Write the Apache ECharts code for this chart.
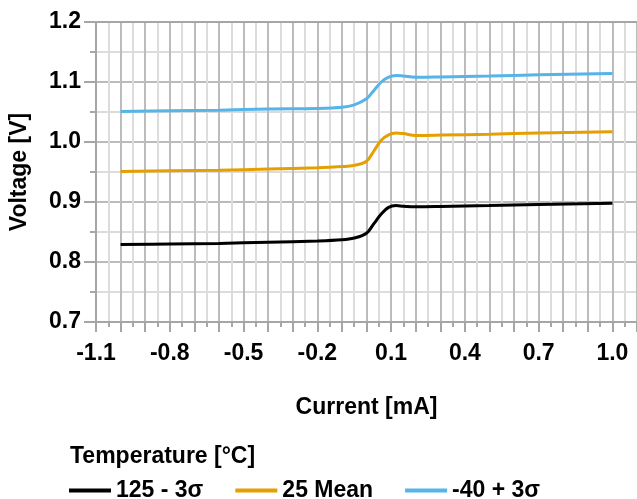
<!DOCTYPE html>
<html>
<head>
<meta charset="utf-8">
<script src="https://cdn.jsdelivr.net/npm/echarts@6/dist/echarts.min.js"></script>
<style>
html,body{margin:0;padding:0;background:#fff;}
#chart{width:637px;height:499px;}
</style>
</head>
<body>
<div id="chart"></div>
<script>
// Data
const currentMA = [-1.0, -0.8, -0.6, -0.4, -0.2, -0.1, -0.05, 0.0, 0.03, 0.06, 0.09, 0.12, 0.15, 0.2, 0.3, 0.5, 0.7, 1.0];
const v125minus3s = [0.829, 0.830, 0.831, 0.833, 0.835, 0.837, 0.840, 0.848, 0.864, 0.880, 0.891, 0.894, 0.893, 0.892, 0.8925, 0.894, 0.896, 0.898];
const v25mean = [0.951, 0.952, 0.953, 0.955, 0.957, 0.959, 0.961, 0.968, 0.985, 1.003, 1.012, 1.015, 1.014, 1.011, 1.0115, 1.013, 1.015, 1.017];
const vMinus40plus3s = [1.051, 1.052, 1.053, 1.055, 1.056, 1.058, 1.062, 1.072, 1.086, 1.100, 1.108, 1.111, 1.110, 1.108, 1.1085, 1.110, 1.112, 1.114];
const seriesNames = ['125 - 3σ', '25 Mean', '-40 + 3σ'];
const xTickLabels = [-1.1, -0.8, -0.5, -0.2, 0.1, 0.4, 0.7, 1.0];
const yTickLabels = [0.7, 0.8, 0.9, 1.0, 1.1, 1.2];

const FONT = 'Liberation Sans';
const FS = 23;
const axisGray = '#a6a6a6';
const majorGrid = '#bcbcbc';
const minorGrid = '#dcdcdc';
const pair = (xs, ys) => xs.map((x, i) => [x, ys[i]]);
const txt = {fontFamily: FONT, fontWeight: 'bold', fontSize: FS, color: '#000'};

const chart = echarts.init(document.getElementById('chart'), null, {renderer: 'canvas'});
const mkSeries = (name, data, color) => ({
  name, type: 'line', data: pair(currentMA, data), smooth: 0.35, showSymbol: false,
  xAxisIndex: 0, yAxisIndex: 0,
  lineStyle: {color, width: 3}, itemStyle: {color}
});
const xMin = xTickLabels[0], xMax = 1.1;
const yMin = yTickLabels[0], yMax = yTickLabels[yTickLabels.length - 1];
chart.setOption({
  animation: false,
  title: {text: 'Temperature [°C]', left: 65, top: 440, textStyle: txt},
  legend: {
    left: 64, top: 474, itemWidth: 42, itemHeight: 4, itemGap: 32,
    icon: 'rect', textStyle: txt, data: seriesNames
  },
  grid: {left: 95, right: -3, top: 22, bottom: 177},
  xAxis: [{
    type: 'value', min: xMin, max: xMax, interval: 0.1,
    axisLine: {show: true, onZero: false, lineStyle: {color: axisGray, width: 2}},
    axisTick: {show: true, length: 10, lineStyle: {color: axisGray, width: 2}},
    minorTick: {show: true, splitNumber: 2, length: 5, lineStyle: {color: axisGray, width: 2}},
    splitLine: {show: true, lineStyle: {color: majorGrid, width: 2}},
    minorSplitLine: {show: true, lineStyle: {color: minorGrid, width: 2}},
    axisLabel: {show: false}
  }, {
    type: 'value', position: 'top', min: xMin, max: xMax,
    axisLine: {show: true, onZero: false, lineStyle: {color: axisGray, width: 2}},
    axisTick: {show: false}, axisLabel: {show: false}, splitLine: {show: false}
  }, {
    type: 'value', position: 'bottom', min: xMin, max: xMax, interval: 0.3,
    name: 'Current [mA]', nameLocation: 'middle', nameGap: 74, nameTextStyle: txt,
    axisLine: {show: false, onZero: false}, axisTick: {show: false}, splitLine: {show: false},
    axisLabel: {margin: 20, showMaxLabel: false, ...txt, formatter: v => v.toFixed(1)}
  }],
  yAxis: {
    type: 'value', min: yMin, max: yMax, interval: 0.1,
    name: 'Voltage [V]', nameLocation: 'middle', nameGap: 65, nameRotate: 90, nameTextStyle: txt,
    axisLine: {show: true, onZero: false, lineStyle: {color: axisGray, width: 2}},
    axisTick: {show: true, length: 12, lineStyle: {color: axisGray, width: 2}},
    minorTick: {show: true, splitNumber: 2, length: 6, lineStyle: {color: axisGray, width: 2}},
    splitLine: {show: true, lineStyle: {color: majorGrid, width: 2}},
    minorSplitLine: {show: true, lineStyle: {color: minorGrid, width: 2}},
    axisLabel: {margin: 15, ...txt, formatter: v => v.toFixed(1)}
  },
  series: [
    mkSeries(seriesNames[0], v125minus3s, '#000000'),
    mkSeries(seriesNames[1], v25mean, '#e69f00'),
    mkSeries(seriesNames[2], vMinus40plus3s, '#56b4e9')
  ]
});
</script>
</body>
</html>
